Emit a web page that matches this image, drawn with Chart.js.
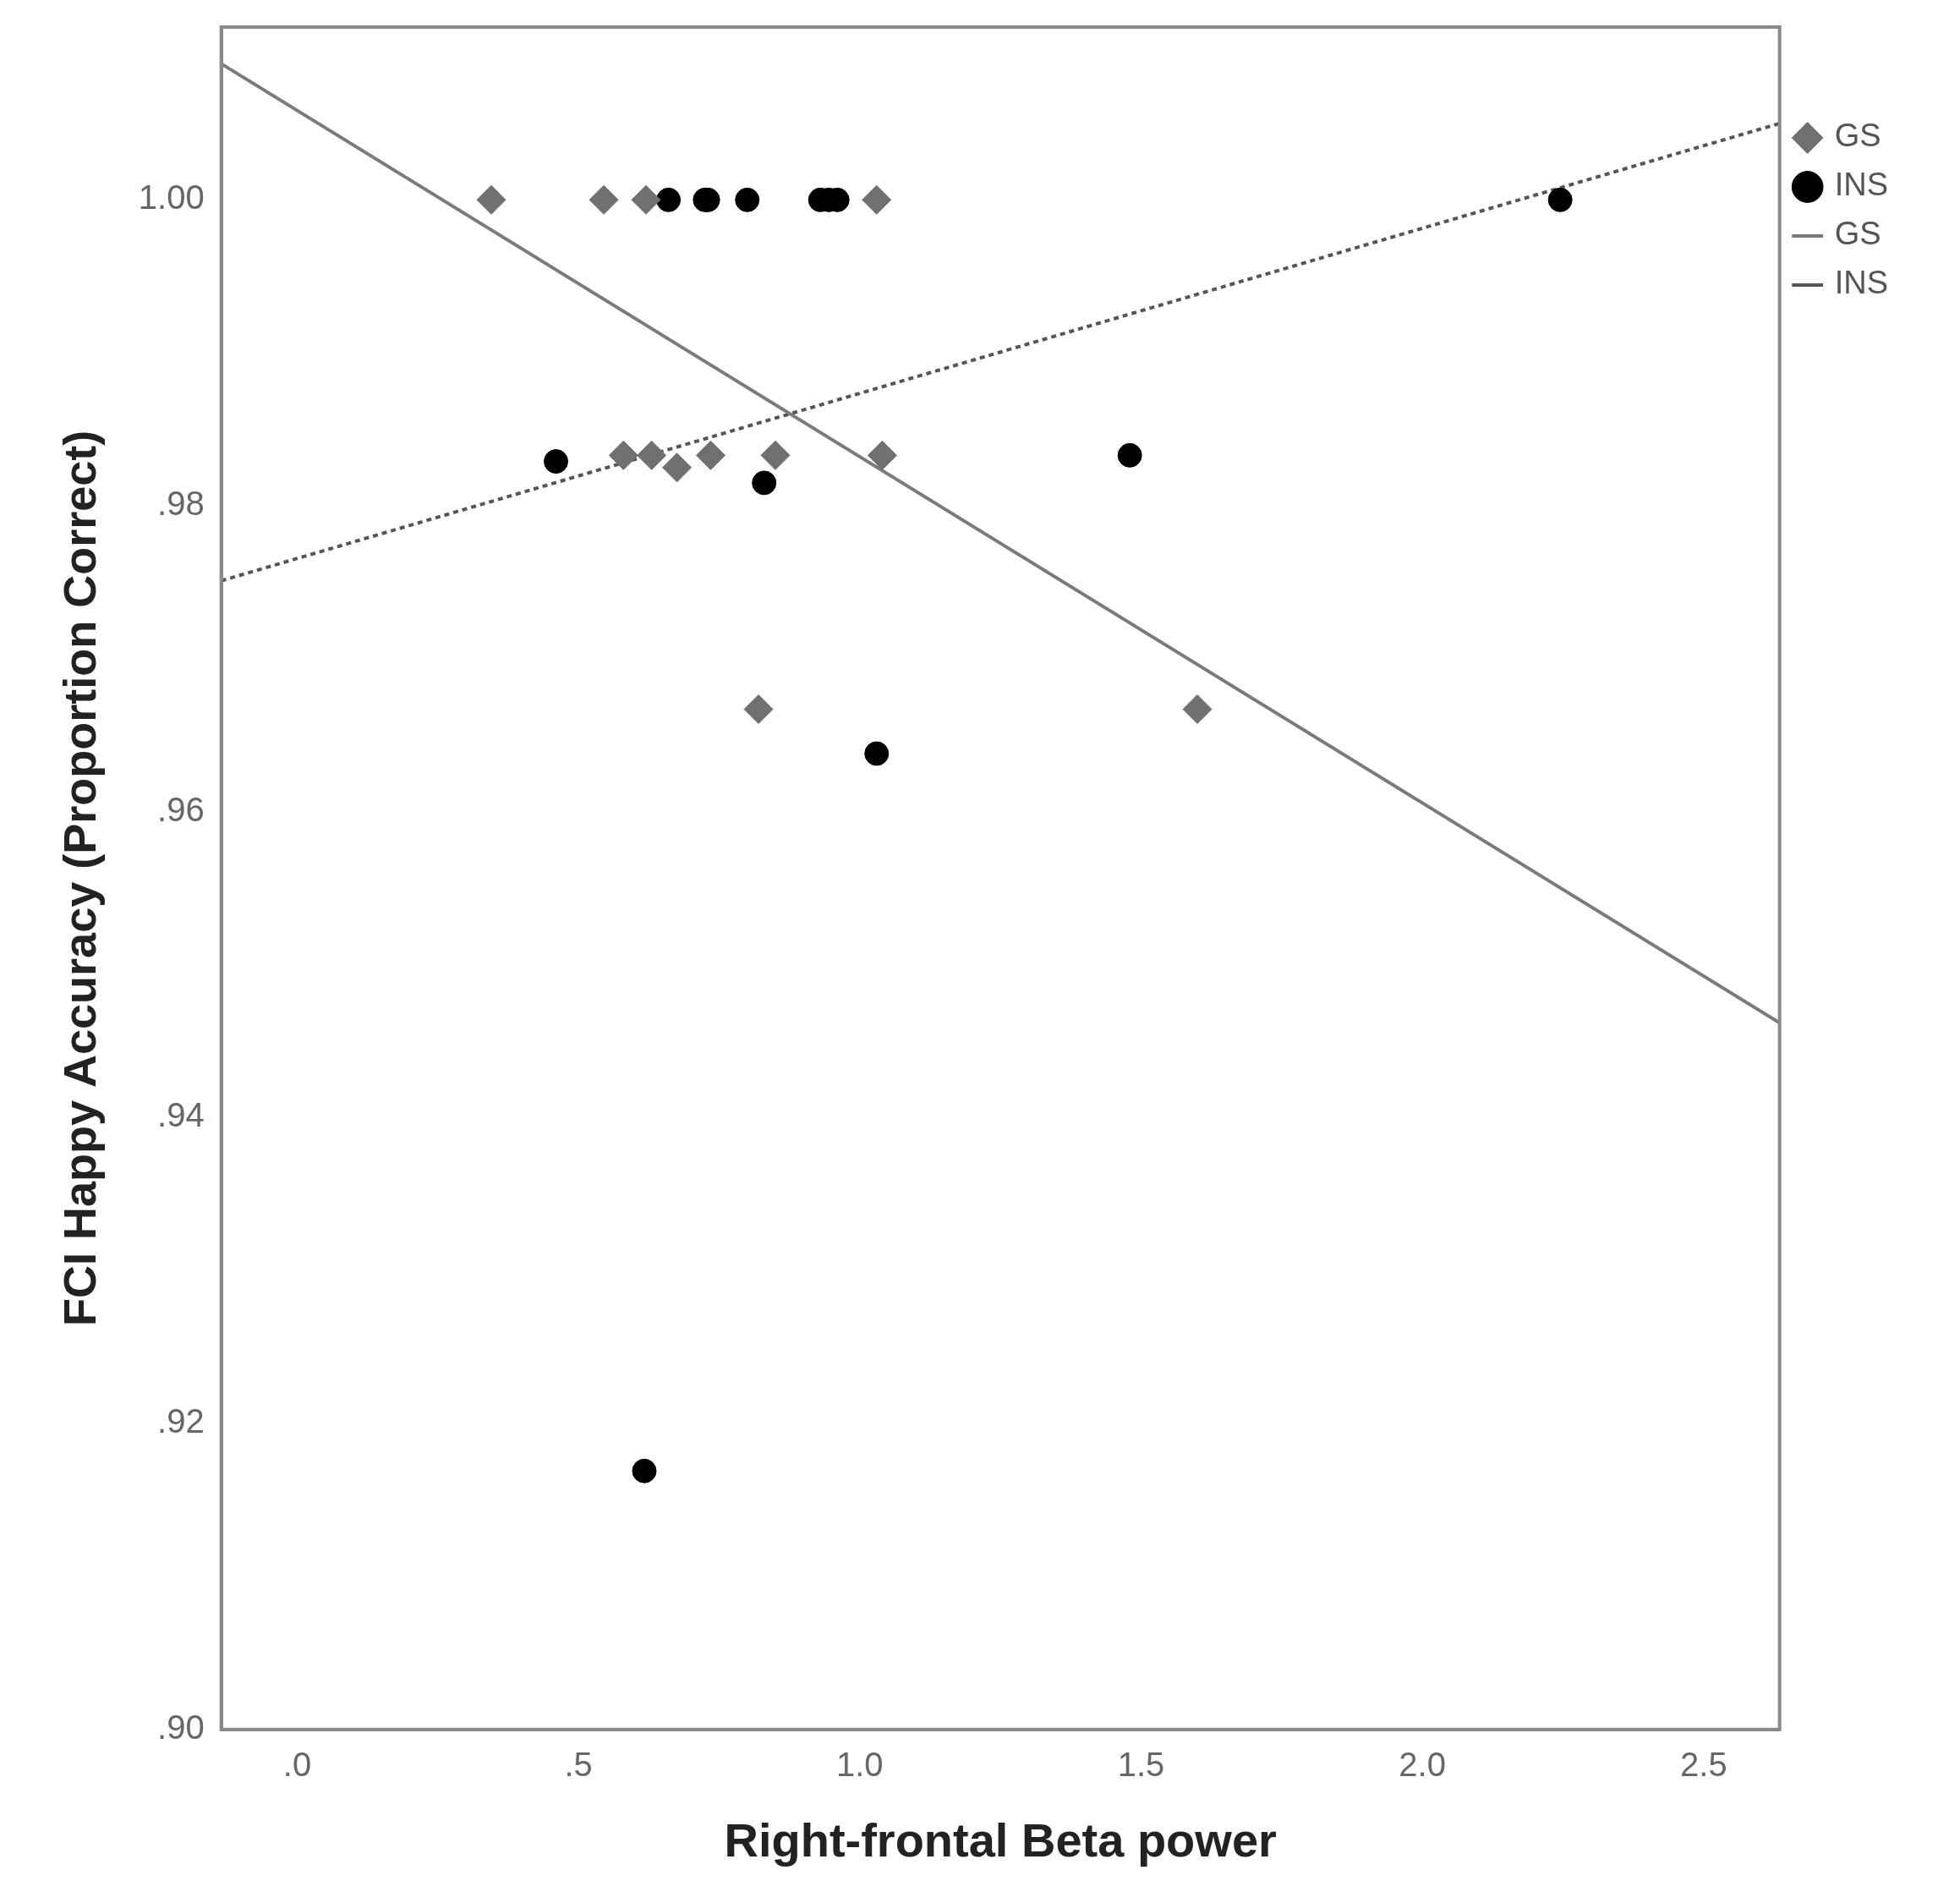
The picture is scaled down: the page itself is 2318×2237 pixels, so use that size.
<!DOCTYPE html>
<html><head><meta charset="utf-8">
<script src="https://cdn.jsdelivr.net/npm/chart.js@4"></script>
<style>body{margin:0;background:#fff}</style></head>
<body><canvas id="c" width="2318" height="2237"></canvas>
<script>
const gsX=[0.345,0.545,0.62,1.03,0.58,0.63,0.675,0.735,0.85,1.04,0.82,1.60];
const gsY=[1.0,1.0,1.0,1.0,0.9833,0.9833,0.9825,0.9833,0.9833,0.9833,0.9667,0.9667];
const insX=[0.66,0.725,0.73,0.80,0.93,0.945,0.96,2.245,0.46,1.48,0.83,1.03,0.617];
const insY=[1.0,1.0,1.0,1.0,1.0,1.0,1.0,1.0,0.9829,0.9833,0.9815,0.9638,0.9169];
const gsFitX=[-0.135,2.635], gsFitY=[1.0089,0.9462];
const insFitX=[-0.135,2.635], insFitY=[0.9751,1.0050];
const xTicks=[0,0.5,1.0,1.5,2.0,2.5], xLabels=['.0','.5','1.0','1.5','2.0','2.5'];
const yTicks=[0.90,0.92,0.94,0.96,0.98,1.00], yLabels=['.90','.92','.94','.96','.98','1.00'];
const pts=(xs,ys)=>xs.map((x,i)=>({x,y:ys[i]}));
const frame={id:'frame',afterDraw(c){const a=c.chartArea,g=c.ctx;g.save();g.strokeStyle='#8a8a8a';g.lineWidth=4;g.strokeRect(a.left,a.top,a.right-a.left,a.bottom-a.top);g.restore();}};
new Chart(document.getElementById('c'),{type:'scatter',
data:{datasets:[
{label:'GS',data:pts(gsX,gsY),pointStyle:'rectRot',pointRadius:17,backgroundColor:'#707070',borderColor:'#707070'},
{label:'INS',data:pts(insX,insY),pointStyle:'circle',pointRadius:14,backgroundColor:'#000',borderColor:'#000'},
{label:'GS',type:'line',data:pts(gsFitX,gsFitY),borderColor:'#7a7a7a',borderWidth:4,pointRadius:0,pointStyle:'line',showLine:true},
{label:'INS',type:'line',data:pts(insFitX,insFitY),borderColor:'#555',borderWidth:4,borderDash:[6,5],pointRadius:0,pointStyle:'line',showLine:true}
]},
options:{responsive:false,animation:false,
layout:{padding:{left:62,top:30,right:75,bottom:20}},
plugins:{legend:{position:'right',align:'start',
 title:{display:true,text:' ',padding:{top:70,bottom:0},font:{size:20}},
 labels:{usePointStyle:true,boxHeight:26,boxWidth:26,font:{size:38,family:'Liberation Sans'},color:'#555',padding:20}},tooltip:{enabled:false}},
scales:{
x:{type:'linear',min:-0.135,max:2.635,grid:{display:false,drawTicks:true,tickLength:12,tickColor:'#8a8a8a'},border:{color:'#8a8a8a',width:4},
 afterBuildTicks(s){s.ticks=xTicks.map(v=>({value:v}));},
 ticks:{callback:(v)=>xLabels[xTicks.indexOf(v)],font:{size:40,family:'Liberation Sans'},color:'#666',padding:8},
 title:{display:true,text:'Right-frontal Beta power',font:{size:56,weight:'bold',family:'Liberation Sans'},color:'#222',padding:{top:25}}},
y:{min:0.90,max:1.0113,grid:{display:false,tickLength:12,tickColor:'#8a8a8a'},border:{color:'#8a8a8a',width:4},
 afterBuildTicks(s){s.ticks=yTicks.map(v=>({value:v}));},
 ticks:{callback:(v)=>yLabels[yTicks.findIndex(t=>Math.abs(t-v)<1e-6)],font:{size:40,family:'Liberation Sans'},color:'#666',padding:8},
 title:{display:true,text:'FCI Happy Accuracy (Proportion Correct)',font:{size:54,weight:'bold',family:'Liberation Sans'},color:'#222',padding:{bottom:25}}}
}},plugins:[frame]});
</script></body></html>
